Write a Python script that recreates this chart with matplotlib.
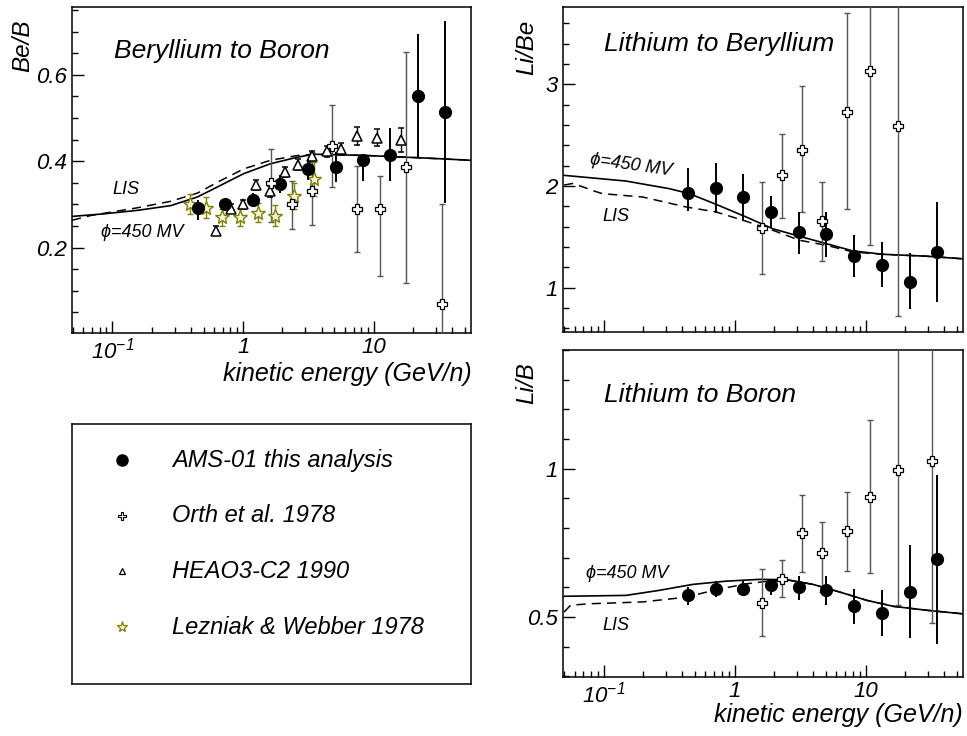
import matplotlib
matplotlib.use("Agg")
import matplotlib.pyplot as plt
from matplotlib.ticker import LogLocator, MultipleLocator, NullFormatter, FormatStrFormatter

plt.rcParams["font.family"] = ["Liberation Sans", "DejaVu Sans"]
plt.rcParams["font.style"] = "italic"
plt.rcParams["mathtext.fontset"] = "custom"
plt.rcParams["mathtext.rm"] = "Liberation Sans:italic"
plt.rcParams["mathtext.it"] = "Liberation Sans:italic"

OLIVE = "#808000"
ORTH_GRAY = "#555555"

# ---- Be/B ----
bb_ams_E = [0.448, 0.728, 1.19, 1.92, 3.12, 5.11, 8.26, 13.4, 21.9, 35.4]
bb_ams = [0.291, 0.300, 0.311, 0.347, 0.381, 0.386, 0.402, 0.415, 0.552, 0.513]
bb_ams_lo = [0.027, 0.012, 0.015, 0.020, 0.025, 0.035, 0.047, 0.062, 0.143, 0.210]
bb_ams_hi = [0.018, 0.012, 0.015, 0.020, 0.025, 0.035, 0.015, 0.061, 0.143, 0.211]

bb_orth_E = [1.63, 2.38, 3.39, 4.76, 7.48, 11.1, 17.8, 33.0]
bb_orth = [0.349, 0.300, 0.332, 0.435, 0.290, 0.290, 0.386, 0.070]
bb_orth_lo = [0.090, 0.057, 0.081, 0.095, 0.101, 0.155, 0.269, 0.070]
bb_orth_hi = [0.078, 0.053, 0.089, 0.095, 0.098, 0.075, 0.266, 0.230]

bb_heao_E = [0.618, 0.805, 1.006, 1.25, 1.61, 2.09, 2.65, 3.39, 4.36, 5.65, 7.48, 10.6, 16.3]
bb_heao = [0.239, 0.290, 0.300, 0.345, 0.330, 0.375, 0.392, 0.411, 0.423, 0.429, 0.458, 0.454, 0.449]
bb_heao_err = [0.010, 0.010, 0.010, 0.012, 0.012, 0.012, 0.012, 0.013, 0.013, 0.014, 0.020, 0.020, 0.028]

bb_lw_E = [0.394, 0.519, 0.695, 0.944, 1.29, 1.75, 2.45, 3.49]
bb_lw = [0.301, 0.292, 0.270, 0.270, 0.280, 0.274, 0.320, 0.359]
bb_lw_err = [0.024, 0.024, 0.020, 0.020, 0.022, 0.024, 0.030, 0.040]

bb_mod_E = [0.049, 0.086, 0.155, 0.279, 0.447, 0.673, 1.01, 1.62, 2.59, 3.48, 5.0, 8.9, 15.0, 21.5, 35.0, 55.0]
bb_mod = [0.272, 0.278, 0.286, 0.297, 0.317, 0.344, 0.371, 0.394, 0.409, 0.416, 0.415, 0.413, 0.410, 0.408, 0.405, 0.402]
bb_lis_E = [0.049, 0.068, 0.155, 0.279, 0.447, 0.673, 1.01, 1.62, 2.59, 3.48, 5.0, 8.9, 15.0, 21.5, 35.0, 55.0]
bb_lis = [0.263, 0.274, 0.292, 0.307, 0.326, 0.355, 0.382, 0.402, 0.413, 0.416, 0.415, 0.413, 0.410, 0.408, 0.405, 0.402]

# ---- Li/Be ----
lbe_ams_E = [0.440, 0.716, 1.158, 1.90, 3.10, 5.02, 8.17, 13.3, 21.8, 35.0]
lbe_ams = [1.931, 1.980, 1.889, 1.741, 1.547, 1.527, 1.311, 1.223, 1.059, 1.354]
lbe_ams_lo = [0.18, 0.25, 0.23, 0.15, 0.22, 0.22, 0.21, 0.22, 0.27, 0.49]
lbe_ams_hi = [0.25, 0.25, 0.23, 0.16, 0.20, 0.22, 0.21, 0.23, 0.28, 0.49]

lbe_orth_E = [1.63, 2.31, 3.29, 4.68, 7.26, 10.9, 17.8]
lbe_orth = [1.59, 2.105, 2.35, 1.655, 2.725, 3.128, 2.59]
lbe_orth_lo = [0.45, 0.415, 0.61, 0.395, 0.955, 1.708, 1.87]
lbe_orth_hi = [0.45, 0.405, 0.63, 0.385, 0.975, 1.70, 1.87]

lbe_mod_E = [0.050, 0.148, 0.318, 0.452, 0.723, 1.23, 1.96, 3.13, 5.01, 8.0, 13.6, 29.2, 55.0]
lbe_mod = [2.105, 2.049, 1.974, 1.925, 1.82, 1.695, 1.58, 1.506, 1.434, 1.362, 1.329, 1.31, 1.285]
lbe_lis_E = [0.050, 0.058, 0.070, 0.085, 0.098, 0.199, 0.427, 0.723, 1.23, 1.96, 3.13, 5.0, 8.0, 13.6, 29.2, 55.0]
lbe_lis = [2.01, 2.025, 1.99, 1.95, 1.925, 1.892, 1.794, 1.745, 1.653, 1.565, 1.467, 1.418, 1.352, 1.329, 1.31, 1.285]

# ---- Li/B ----
lb_ams_E = [0.440, 0.716, 1.158, 1.90, 3.10, 5.02, 8.17, 13.3, 21.8, 35.4]
lb_ams = [0.575, 0.595, 0.595, 0.607, 0.601, 0.590, 0.537, 0.513, 0.584, 0.697]
lb_ams_lo = [0.036, 0.028, 0.025, 0.031, 0.043, 0.048, 0.062, 0.077, 0.155, 0.287]
lb_ams_hi = [0.026, 0.026, 0.025, 0.022, 0.039, 0.049, 0.059, 0.077, 0.158, 0.283]

lb_orth_E = [1.63, 2.31, 3.29, 4.68, 7.26, 10.9, 17.8, 32.4]
lb_orth = [0.548, 0.629, 0.783, 0.716, 0.789, 0.904, 0.994, 1.026]
lb_orth_lo = [0.113, 0.062, 0.131, 0.132, 0.134, 0.256, 0.455, 0.545]
lb_orth_hi = [0.115, 0.062, 0.130, 0.104, 0.132, 0.261, 0.800, 0.800]

lb_mod_E = [0.05, 0.148, 0.266, 0.479, 0.86, 1.55, 2.48, 3.98, 6.4, 10.3, 16.4, 29.2, 55.0]
lb_mod = [0.570, 0.573, 0.590, 0.610, 0.621, 0.627, 0.626, 0.610, 0.584, 0.556, 0.536, 0.523, 0.511]
lb_lis_E = [0.05, 0.056, 0.08, 0.199, 0.427, 0.72, 1.23, 1.8, 2.48, 3.98, 6.4, 10.3, 16.4, 29.2, 55.0]
lb_lis = [0.517, 0.540, 0.545, 0.551, 0.567, 0.592, 0.612, 0.621, 0.626, 0.610, 0.584, 0.556, 0.536, 0.523, 0.511]

legend_labels = ["AMS-01 this analysis", "Orth et al. 1978", "HEAO3-C2 1990", "Lezniak & Webber 1978"]

XMIN, XMAX = 0.049, 55.5


def style_axis(ax, ylim, ymajor, yminor, yfmt, show_xlabels=True):
    ax.set_xscale("log")
    ax.set_xlim(XMIN, XMAX)
    ax.set_ylim(*ylim)
    ax.yaxis.set_major_locator(MultipleLocator(ymajor))
    ax.yaxis.set_minor_locator(MultipleLocator(yminor))
    ax.yaxis.set_major_formatter(FormatStrFormatter(yfmt))
    ax.xaxis.set_major_locator(LogLocator(base=10))
    ax.xaxis.set_minor_locator(LogLocator(base=10, subs=range(2, 10)))
    ax.xaxis.set_minor_formatter(NullFormatter())
    ax.tick_params(which="both", direction="in", top=False, right=False, width=1.0)
    ax.tick_params(which="major", length=8.5, labelsize=16)
    ax.tick_params(which="minor", length=4.3)
    ax.set_xticks([0.1, 1, 10])
    if show_xlabels:
        ax.set_xticklabels([r"$10^{-1}$", "1", "10"])
    else:
        ax.set_xticklabels([])
    ax.tick_params(axis="x", pad=3)
    ax.tick_params(axis="y", pad=4)
    for s in ax.spines.values():
        s.set_linewidth(1.1)


def draw_curves(ax, mE, m, lE, l):
    ax.plot(mE, m, color="black", lw=1.2, zorder=2)
    ax.plot(lE, l, color="black", lw=1.1, ls=(0, (6, 4)), zorder=2)


def draw_ams(ax, E, y, lo, hi):
    ax.errorbar(E, y, yerr=[lo, hi], fmt="o", color="black", ms=8.5, elinewidth=1.4,
                capsize=0, zorder=5)


def draw_orth(ax, E, y, lo, hi):
    ax.errorbar(E, y, yerr=[lo, hi], fmt="none", ecolor=ORTH_GRAY, elinewidth=1.0,
                capsize=2.5, capthick=1.0, zorder=3)
    ax.plot(E, y, "P", mfc="white", mec="black", mew=0.9, ms=7.5, ls="none", zorder=6)


fig = plt.figure(figsize=(9.67, 7.36), dpi=100)
W, H = 967.0, 736.0


def place(x0, y0, x1, y1):
    return [x0 / W, 1 - y1 / H, (x1 - x0) / W, (y1 - y0) / H]


ax1 = fig.add_axes(place(72, 7, 471, 333))
ax2 = fig.add_axes(place(563, 7, 963, 332))
ax3 = fig.add_axes(place(563, 350, 963, 677))
LEG_TOP, LEG_BOT = 424, 684
axl = fig.add_axes(place(72, LEG_TOP, 471, LEG_BOT))

# Be/B
style_axis(ax1, (0.002, 0.757), 0.2, 0.05, "%.1f")
draw_curves(ax1, bb_mod_E, bb_mod, bb_lis_E, bb_lis)
draw_orth(ax1, bb_orth_E, bb_orth, bb_orth_lo, bb_orth_hi)
ax1.errorbar(bb_heao_E, bb_heao, yerr=bb_heao_err, fmt="^", mfc="white", mec="black",
             ecolor="black", mew=1.1, ms=7, elinewidth=1.0, capsize=2.5, zorder=4)
ax1.errorbar(bb_lw_E, bb_lw, yerr=bb_lw_err, fmt="*", mfc="#f4f4e0", mec=OLIVE,
             ecolor=OLIVE, mew=1.0, ms=10, elinewidth=1.0, capsize=2.5, zorder=4)
draw_ams(ax1, bb_ams_E, bb_ams, bb_ams_lo, bb_ams_hi)
ax1.text(0.102, 0.656, "Beryllium to Boron", fontsize=19, va="center", ha="left")
ax1.text(0.100, 0.334, "LIS", fontsize=13, va="center", ha="left")
ax1.text(0.0815, 0.235, "\u03d5=450 MV", fontsize=13, va="center", ha="left")

# Li/Be
style_axis(ax2, (0.565, 3.76), 1.0, 0.2, "%g", show_xlabels=False)
draw_curves(ax2, lbe_mod_E, lbe_mod, lbe_lis_E, lbe_lis)
draw_orth(ax2, lbe_orth_E, lbe_orth, lbe_orth_lo, lbe_orth_hi)
draw_ams(ax2, lbe_ams_E, lbe_ams, lbe_ams_lo, lbe_ams_hi)
ax2.text(0.101, 3.40, "Lithium to Beryllium", fontsize=19, va="center", ha="left")
ax2.text(0.078, 2.20, "\u03d5=450 MV", fontsize=13, va="center", ha="left", rotation=-8)
ax2.text(0.098, 1.70, "LIS", fontsize=13, va="center", ha="left")

# Li/B
style_axis(ax3, (0.298, 1.40), 0.5, 0.1, "%g")
draw_curves(ax3, lb_mod_E, lb_mod, lb_lis_E, lb_lis)
draw_orth(ax3, lb_orth_E, lb_orth, lb_orth_lo, lb_orth_hi)
draw_ams(ax3, lb_ams_E, lb_ams, lb_ams_lo, lb_ams_hi)
ax3.text(0.101, 1.247, "Lithium to Boron", fontsize=19, va="center", ha="left")
ax3.text(0.074, 0.647, "\u03d5=450 MV", fontsize=13, va="center", ha="left")
ax3.text(0.098, 0.472, "LIS", fontsize=13, va="center", ha="left")

# axis titles
fig.text(23 / W, 1 - 20 / H, "Be/B", rotation=90, ha="center", va="top", fontsize=17.5)
fig.text(527 / W, 1 - 20 / H, "Li/Be", rotation=90, ha="center", va="top", fontsize=17.5)
fig.text(527 / W, 1 - 362 / H, "Li/B", rotation=90, ha="center", va="top", fontsize=17.5)
fig.text(472 / W, 1 - 374 / H, "kinetic energy (GeV/n)", ha="right", va="center", fontsize=18)
fig.text(963 / W, 1 - 715 / H, "kinetic energy (GeV/n)", ha="right", va="center", fontsize=18)

# legend box
axl.set_xlim(0, 1)
axl.set_ylim(0, 1)
axl.set_xticks([])
axl.set_yticks([])
for s in axl.spines.values():
    s.set_linewidth(1.1)
rows = [460, 516, 571, 627]
mx = (122 - 72) / 399.0
tx = (172 - 72) / 399.0
marker_styles = [
    dict(marker="o", mfc="black", mec="black", ms=8),
    dict(marker="P", mfc="white", mec="black", mew=0.8, ms=5.5),
    dict(marker="^", mfc="white", mec="black", mew=0.9, ms=5),
    dict(marker="*", mfc="#f4f4e0", mec=OLIVE, mew=0.9, ms=8),
]
for ry, lab, st in zip(rows, legend_labels, marker_styles):
    yy = 1 - (ry - LEG_TOP) / float(LEG_BOT - LEG_TOP)
    axl.plot([mx], [yy], ls="none", **st)
    axl.text(tx, yy, lab, fontsize=17, va="center", ha="left")

fig.savefig("out.png", dpi=100)
